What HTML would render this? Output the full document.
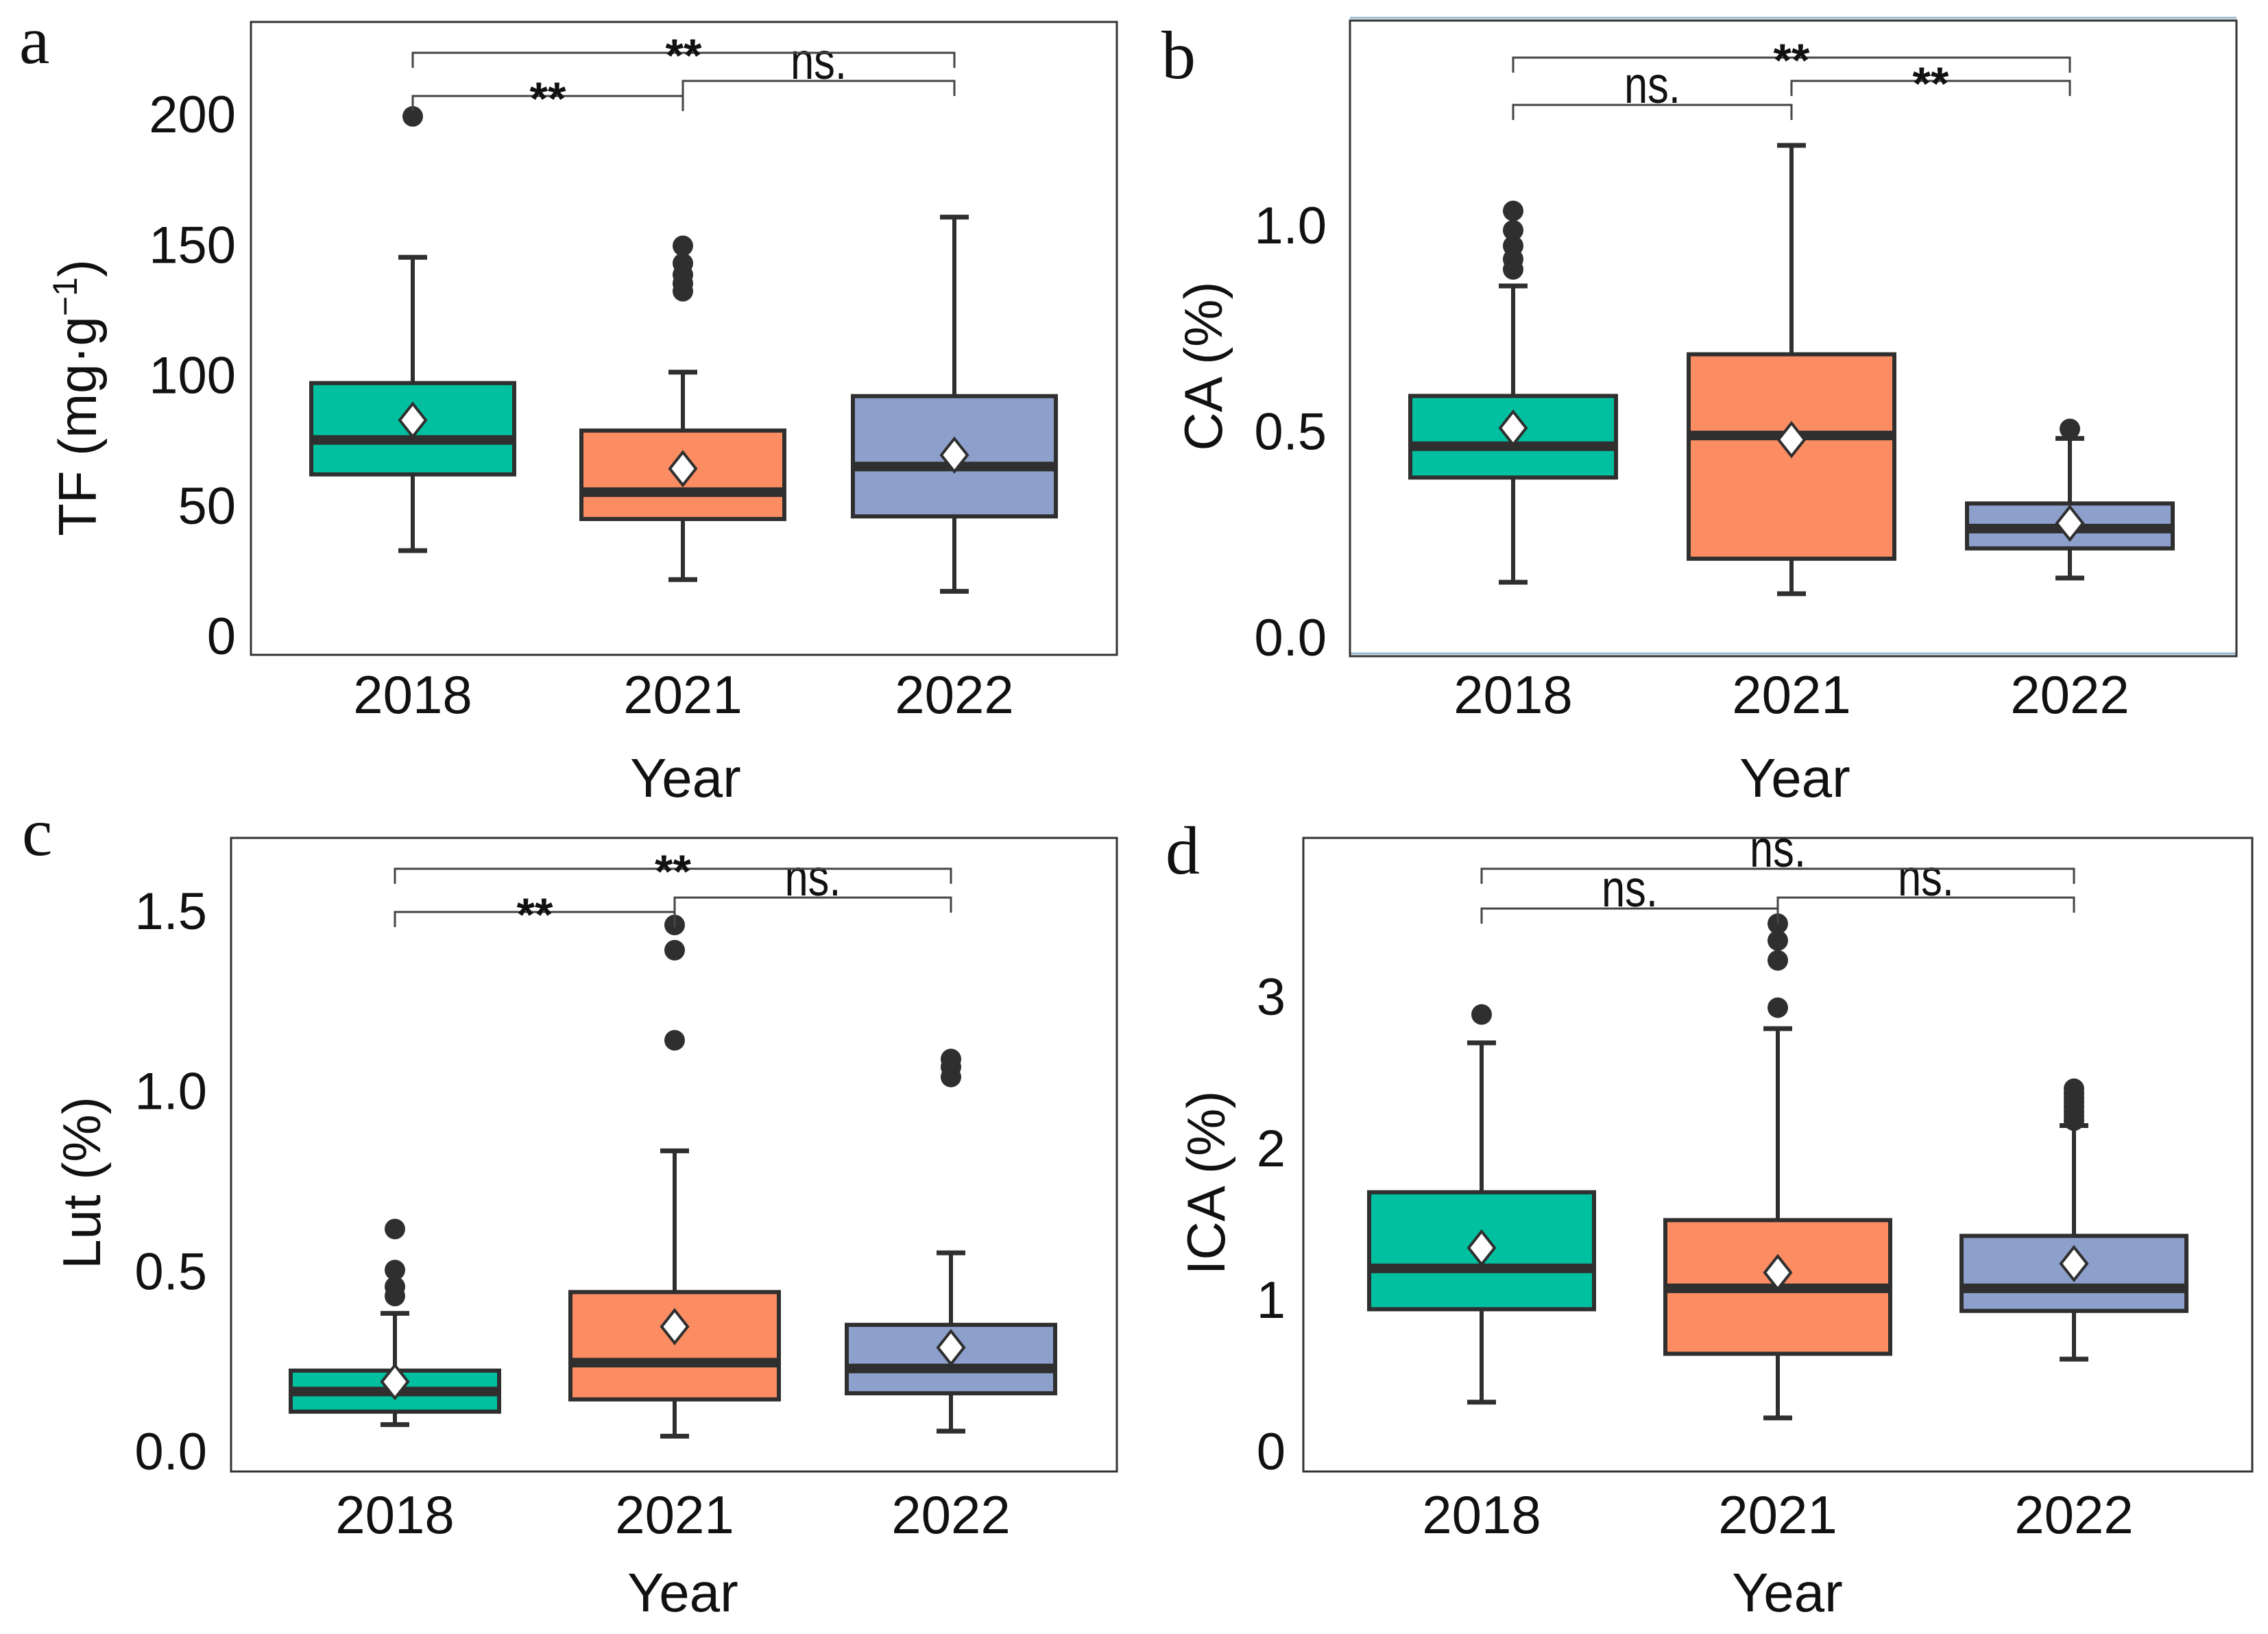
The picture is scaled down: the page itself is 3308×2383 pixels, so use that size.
<!DOCTYPE html>
<html>
<head>
<meta charset="utf-8">
<style>
html,body{margin:0;padding:0;background:#fff;}
svg{display:block;}
text{font-family:"Liberation Sans",Arial,sans-serif;fill:#111;}
.panel-letter{font-family:"Liberation Serif",serif;font-size:100px;}
</style>
</head>
<body>
<svg id="fig" width="3308" height="2383" viewBox="0 0 3308 2383" xmlns="http://www.w3.org/2000/svg"></svg>
<script>
// ---- Data ----
const categories = ["2018", "2021", "2022"];

// Panel a: TF (mg·g-1)
const tfLow = [32.6, 21.5, 17];
const tfQ1 = [61.8, 44.7, 45.7];
const tfMedian = [75, 55, 64.8];
const tfQ3 = [96.8, 78.6, 91.8];
const tfHigh = [145, 101, 160.4];
const tfMean = [82.6, 64, 69.2];
const tfOutliers = [[199], [149.4, 142.7, 138.3, 135, 132], []];
const tfTicks = [0, 50, 100, 150, 200];
const tfTickLabels = ["0", "50", "100", "150", "200"];

// Panel b: CA (%)
const caLow = [0.133, 0.105, 0.143];
const caQ1 = [0.387, 0.19, 0.215];
const caMedian = [0.463, 0.489, 0.263];
const caQ3 = [0.585, 0.686, 0.324];
const caHigh = [0.852, 1.193, 0.482];
const caMean = [0.507, 0.479, 0.276];
const caOutliers = [[1.034, 0.987, 0.949, 0.917, 0.892], [], [0.505]];
const caTicks = [0, 0.5, 1.0];
const caTickLabels = ["0.0", "0.5", "1.0"];

// Panel c: Lut (%)
const lutLow = [0.073, 0.041, 0.055];
const lutQ1 = [0.109, 0.143, 0.160];
const lutMedian = [0.165, 0.245, 0.229];
const lutQ3 = [0.223, 0.441, 0.350];
const lutHigh = [0.382, 0.833, 0.550];
const lutMean = [0.192, 0.345, 0.287];
const lutOutliers = [[0.616, 0.502, 0.456, 0.430], [1.460, 1.390, 1.140], [1.088, 1.066, 1.038]];
const lutTicks = [0, 0.5, 1.0, 1.5];
const lutTickLabels = ["0.0", "0.5", "1.0", "1.5"];

// Panel d: ICA (%)
const icaLow = [0.322, 0.218, 0.606];
const icaQ1 = [0.935, 0.641, 0.924];
const icaMedian = [1.205, 1.073, 1.073];
const icaQ3 = [1.707, 1.523, 1.419];
const icaHigh = [2.693, 2.787, 2.147];
const icaMean = [1.340, 1.177, 1.236];
const icaOutliers = [[2.880], [3.479, 3.368, 3.237, 2.925], [2.39, 2.36, 2.33, 2.30, 2.27, 2.24, 2.21, 2.18]];
const icaTicks = [0, 1, 2, 3];
const icaTickLabels = ["0", "1", "2", "3"];

// Significance labels: [2018-2021, 2021-2022, 2018-2022]
const sigA = ["**", "ns.", "**"];
const sigB = ["ns.", "**", "**"];
const sigC = ["**", "ns.", "**"];
const sigD = ["ns.", "ns.", "ns."];

// ---- Rendering ----
const NS = "http://www.w3.org/2000/svg";
const svg = document.getElementById("fig");
const fills = ["#00c0a0", "#fc8d62", "#8da0cb"];
const dark = "#2f2f2f";

function mk(tag, attrs, parent, text) {
  const el = document.createElementNS(NS, tag);
  for (const k in attrs) el.setAttribute(k, attrs[k]);
  if (text !== undefined) el.textContent = text;
  (parent || svg).appendChild(el);
  return el;
}

function drawPanel(cfg) {
  const g = mk("g", {});
  
  
  const yScale = v => cfg.y0 + (v - cfg.v0) * (cfg.y1 - cfg.y0) / (cfg.v1 - cfg.v0);
  const xScale = i => cfg.cx[i];

  if (cfg.blueEdge) {
    const bt = mk("line", {x1: cfg.L, x2: cfg.R, y1: cfg.T - 4, y2: cfg.T - 4, stroke: "#9ab8cc", "stroke-width": 3}, g);
    
    
    const bb = mk("line", {x1: cfg.L, x2: cfg.R, y1: cfg.B - 4, y2: cfg.B - 4, stroke: "#9ab8cc", "stroke-width": 3}, g);
    
    
  }
  const frame = mk("rect", {x: cfg.L, y: cfg.T, width: cfg.R - cfg.L, height: cfg.B - cfg.T, fill: "none", stroke: "#333", "stroke-width": 3}, g);
  
  

  const pl = mk("text", {x: cfg.letterX, y: cfg.letterY, class: "panel-letter"}, g, cfg.letter);
  
  

  cfg.ticks.forEach((t, i) => {
    const tl = mk("text", {x: cfg.tickRight, y: yScale(t) + 27, "text-anchor": "end", "font-size": 76}, g, cfg.tickLabels[i]);
    
    
  });

  categories.forEach((c, i) => {
    const xl = mk("text", {x: xScale(i), y: cfg.xLabelY, "text-anchor": "middle", "font-size": 78}, g, c);
    
    
  });
  const xt = mk("text", {x: cfg.yearX, y: cfg.yearY, "text-anchor": "middle", "font-size": 80}, g, "Year");
  
  

  const yt = mk("text", {x: 0, y: 0, "text-anchor": "middle", "font-size": 78, transform: `translate(${cfg.ytX},${cfg.ytY}) rotate(-90)`}, g);
  
  
  yt.innerHTML = cfg.yTitle;

  categories.forEach((c, i) => {
    const bx = xScale(i), hw = cfg.hw, cap = 21;
    const bg = mk("g", {}, g);
    
    
    const wl = mk("line", {x1: bx, x2: bx, y1: yScale(cfg.low[i]), y2: yScale(cfg.q1[i]), stroke: dark, "stroke-width": 6}, bg);
    
    
    const wh = mk("line", {x1: bx, x2: bx, y1: yScale(cfg.high[i]), y2: yScale(cfg.q3[i]), stroke: dark, "stroke-width": 6}, bg);
    
    
    const cl = mk("line", {x1: bx - cap, x2: bx + cap, y1: yScale(cfg.low[i]), y2: yScale(cfg.low[i]), stroke: dark, "stroke-width": 7}, bg);
    
    
    const ch = mk("line", {x1: bx - cap, x2: bx + cap, y1: yScale(cfg.high[i]), y2: yScale(cfg.high[i]), stroke: dark, "stroke-width": 7}, bg);
    
    
    const r = mk("rect", {x: bx - hw, y: yScale(cfg.q3[i]), width: 2 * hw, height: yScale(cfg.q1[i]) - yScale(cfg.q3[i]), fill: fills[i], stroke: dark, "stroke-width": 6}, bg);
    
    
    const m = mk("line", {x1: bx - hw, x2: bx + hw, y1: yScale(cfg.med[i]), y2: yScale(cfg.med[i]), stroke: dark, "stroke-width": 14}, bg);
    
    
    cfg.out[i].forEach(v => {
      const o = mk("circle", {cx: bx, cy: yScale(v), r: 15, fill: dark}, bg);
      
      
    });
    const my = yScale(cfg.mean[i]);
    const d = mk("polygon", {points: `${bx},${my - 24} ${bx + 19},${my} ${bx},${my + 24} ${bx - 19},${my}`, fill: "#fff", stroke: dark, "stroke-width": 4}, bg);
    
    
  });

  const pairs = [[0, 1, cfg.br[0]], [1, 2, cfg.br[1]], [0, 2, cfg.br[2]]];
  pairs.forEach((p, k) => {
    const x1 = xScale(p[0]), x2 = xScale(p[1]), yl = p[2], drop = 22;
    const bk = mk("path", {d: `M${x1},${yl + drop} V${yl} H${x2} V${yl + drop}`, fill: "none", stroke: "#444", "stroke-width": 3}, g);
    
    
    const star = cfg.sig[k] === "**";
    let st;
    if (star) {
      st = mk("text", {x: (x1 + x2) / 2, y: yl + 27, "text-anchor": "middle", "font-size": 68, "font-weight": "bold"}, g, cfg.sig[k]);
    } else {
      st = mk("text", {x: (x1 + x2) / 2 - 41, y: yl - 3, "font-size": 76, textLength: 82, lengthAdjust: "spacingAndGlyphs"}, g, cfg.sig[k]);
    }
    
    
  });
}

drawPanel({name: "panel-a-tf", letter: "a", letterX: 28, letterY: 92,
  L: 366, R: 1629, T: 32, B: 955, cx: [602, 996, 1392], hw: 148,
  v0: 0, y0: 927, v1: 200, y1: 166, ticks: tfTicks, tickLabels: tfTickLabels, tickRight: 344,
  xLabelY: 1040, yearX: 1000, yearY: 1162, ytX: 140, ytY: 580,
  yTitle: 'TF (mg·g<tspan dy="-28" font-size="50">−1</tspan><tspan dy="28">)</tspan>',
  low: tfLow, q1: tfQ1, med: tfMedian, q3: tfQ3, high: tfHigh, mean: tfMean, out: tfOutliers,
  br: [140, 118, 77], sig: sigA});

drawPanel({name: "panel-b-ca", letter: "b", letterX: 1694, letterY: 114, blueEdge: true,
  L: 1969, R: 3262, T: 30, B: 957, cx: [2207, 2613, 3019], hw: 150,
  v0: 0, y0: 929, v1: 1, y1: 328, ticks: caTicks, tickLabels: caTickLabels, tickRight: 1935,
  xLabelY: 1040, yearX: 2618, yearY: 1162, ytX: 1782, ytY: 534,
  yTitle: 'CA (%)',
  low: caLow, q1: caQ1, med: caMedian, q3: caQ3, high: caHigh, mean: caMean, out: caOutliers,
  br: [153, 118, 84], sig: sigB});

drawPanel({name: "panel-c-lut", letter: "c", letterX: 32, letterY: 1247,
  L: 337, R: 1629, T: 1222, B: 2146, cx: [576, 984, 1387], hw: 152,
  v0: 0, y0: 2116, v1: 1.5, y1: 1328, ticks: lutTicks, tickLabels: lutTickLabels, tickRight: 302,
  xLabelY: 2236, yearX: 996, yearY: 2350, ytX: 146, ytY: 1725,
  yTitle: 'Lut (%)',
  low: lutLow, q1: lutQ1, med: lutMedian, q3: lutQ3, high: lutHigh, mean: lutMean, out: lutOutliers,
  br: [1330, 1309, 1267], sig: sigC});

drawPanel({name: "panel-d-ica", letter: "d", letterX: 1700, letterY: 1274,
  L: 1901, R: 3285, T: 1222, B: 2146, cx: [2161, 2593, 3025], hw: 164,
  v0: 0, y0: 2116, v1: 3, y1: 1453, ticks: icaTicks, tickLabels: icaTickLabels, tickRight: 1875,
  xLabelY: 2236, yearX: 2607, yearY: 2350, ytX: 1786, ytY: 1725,
  yTitle: 'ICA (%)',
  low: icaLow, q1: icaQ1, med: icaMedian, q3: icaQ3, high: icaHigh, mean: icaMean, out: icaOutliers,
  br: [1325, 1309, 1267], sig: sigD});
</script>
</body>
</html>
